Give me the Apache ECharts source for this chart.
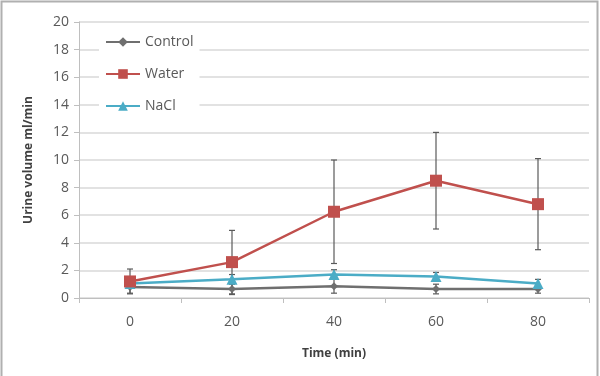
<!DOCTYPE html>
<html>
<head>
<meta charset="utf-8">
<script src="https://cdn.jsdelivr.net/npm/echarts@6/dist/echarts.min.js"></script>
<style>
  html, body { margin: 0; padding: 0; background: #fff; }
  #main { width: 600px; height: 376px; }
</style>
</head>
<body>
<div id="main"></div>
<script>
var times = ['0', '20', '40', '60', '80'];
var yTicks = [0, 2, 4, 6, 8, 10, 12, 14, 16, 18, 20];

var control = [0.8, 0.65, 0.85, 0.65, 0.65];
var controlErr = [0.45, 0.4, 0.5, 0.35, 0.3];
var water = [1.2, 2.6, 6.25, 8.5, 6.8];
var waterErr = [0.9, 2.3, 3.75, 3.5, 3.3];
var nacl = [1.05, 1.35, 1.7, 1.55, 1.05];
var naclErr = [0.3, 0.35, 0.35, 0.3, 0.3];

var myChart = echarts.init(document.getElementById('main'));

function errorSeries(vals, errs) {
    var d = vals.map(function (v, i) { return [i, v - errs[i], v + errs[i]]; });
    return {
        type: 'custom',
        z: 1,
        silent: true,
        data: d,
        renderItem: function (params, api) {
            var lo = api.coord([api.value(0), api.value(1)]);
            var hi = api.coord([api.value(0), api.value(2)]);
            var w = 3;
            var st = { stroke: '#5a5a5a', lineWidth: 1.2 };
            return {
                type: 'group',
                children: [
                    { type: 'line', shape: { x1: lo[0], y1: lo[1], x2: hi[0], y2: hi[1] }, style: st },
                    { type: 'line', shape: { x1: lo[0] - w, y1: lo[1], x2: lo[0] + w, y2: lo[1] }, style: st },
                    { type: 'line', shape: { x1: hi[0] - w, y1: hi[1], x2: hi[0] + w, y2: hi[1] }, style: st }
                ]
            };
        }
    };
}

var option = {
    textStyle: { fontFamily: 'Open Sans' },
    graphic: [
        {
            type: 'rect',
            shape: { x: 1.5, y: 1.5, width: 596, height: 380 },
            style: { fill: 'none', stroke: '#b0b0b0', lineWidth: 2 },
            silent: true
        }
    ],
    grid: { left: 79, right: 11, top: 22, bottom: 78 },
    legend: {
        orient: 'vertical',
        left: 99,
        top: 31,
        itemGap: 18,
        itemWidth: 34,
        itemHeight: 12,
        padding: [4, 6, 4, 6],
        backgroundColor: '#fff',
        textStyle: { color: '#595959', fontSize: 14 },
        data: ['Control', 'Water', 'NaCl']
    },
    xAxis: {
        type: 'category',
        data: times,
        name: 'Time (min)',
        nameLocation: 'middle',
        nameGap: 50,
        nameTextStyle: { color: '#404040', fontWeight: 'bold', fontSize: 12 },
        axisLine: { lineStyle: { color: '#bfbfbf' } },
        axisTick: { show: true, length: 5, lineStyle: { color: '#bfbfbf' } },
        axisLabel: { color: '#595959', fontSize: 14, margin: 17 }
    },
    yAxis: {
        type: 'value',
        min: yTicks[0],
        max: yTicks[yTicks.length - 1],
        interval: 2,
        name: 'Urine volume ml/min',
        nameLocation: 'middle',
        nameGap: 44,
        nameTextStyle: { color: '#404040', fontWeight: 'bold', fontSize: 12 },
        axisLine: { show: true, lineStyle: { color: '#bfbfbf' } },
        axisTick: { show: true, length: 5, lineStyle: { color: '#bfbfbf' } },
        axisLabel: { color: '#595959', fontSize: 14, margin: 10 },
        splitLine: { lineStyle: { color: '#d9d9d9', width: 1.5 } }
    },
    series: [
        errorSeries(water, waterErr),
        errorSeries(control, controlErr),
        errorSeries(nacl, naclErr),
        {
            name: 'Control',
            type: 'line',
            z: 3,
            data: control,
            symbol: 'diamond',
            symbolSize: 8,
            itemStyle: { color: '#6f6f6f' },
            lineStyle: { color: '#6f6f6f', width: 2.5 }
        },
        {
            name: 'Water',
            type: 'line',
            z: 4,
            data: water,
            symbol: 'rect',
            symbolSize: 12,
            itemStyle: { color: '#c0504d' },
            lineStyle: { color: '#c0504d', width: 2.5 }
        },
        {
            name: 'NaCl',
            type: 'line',
            z: 3,
            data: nacl,
            symbol: 'triangle',
            symbolSize: 11,
            itemStyle: { color: '#4bacc6' },
            lineStyle: { color: '#4bacc6', width: 2.5 }
        }
    ]
};

myChart.setOption(option);
</script>
</body>
</html>
